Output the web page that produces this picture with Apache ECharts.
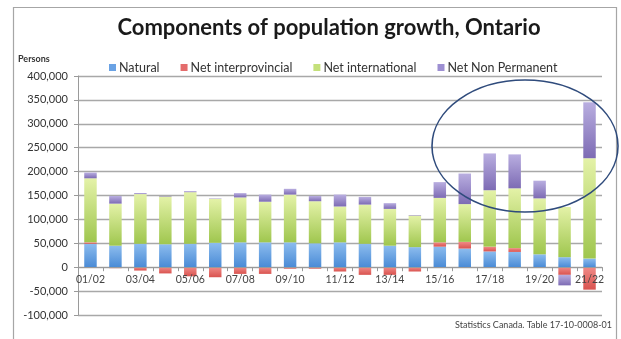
<!DOCTYPE html>
<html>
<head>
<meta charset="utf-8">
<script src="https://cdn.jsdelivr.net/npm/echarts@6/dist/echarts.min.js"></script>
<style>
html,body{margin:0;padding:0;background:#fff;}
#chart{width:621px;height:339px;}
</style>
</head>
<body>
<div id="chart"></div>
<script>
const categories = ['01/02','02/03','03/04','04/05','05/06','06/07','07/08','08/09','09/10','10/11','11/12','12/13','13/14','14/15','15/16','16/17','17/18','18/19','19/20','20/21','21/22'];
const natural =       [49000, 45000, 49000, 48000, 49000, 51000, 52000, 52000, 52000, 50000, 52000, 49000, 45000, 42000, 43000, 39000, 33000, 32000, 27000, 21000, 18000];
const interprovincial=[3000, -2000, -7000, -13000, -19000, -21000, -14000, -14000, -3000, -3000, -9000, -16000, -16000, -9000, 9000, 14000, 10000, 8000, -1000, -16000, -47000];
const international = [134000, 88000, 104000, 100000, 108000, 92000, 94000, 85000, 100000, 88000, 75000, 82000, 77000, 66000, 93000, 79000, 118000, 125000, 117000, 105000, 210000];
const nonPermanent =  [12000, 16000, 2000, 1000, 2000, 1000, 9000, 15000, 12000, 11000, 25000, 16000, 12000, 1000, 33000, 64000, 77000, 71000, 37000, -22000, 117000];
const seriesNames = ['Natural','Net interprovincial','Net international','Net Non Permanent'];
const yTicks = {min:-100000, max:400000, interval:50000};

const FONT = 'Lato, "Open Sans", sans-serif';
function grad(top, bottom){
  return new echarts.graphic.LinearGradient(0,0,0,1,[{offset:0,color:top},{offset:1,color:bottom}]);
}
const colors = [
  grad('#8cbcee','#4a8bd6'),
  grad('#f08a87','#d9534f'),
  grad('#e4f2a8','#9fc64e'),
  grad('#b9aee0','#7d6bb4')
];
const legendColors = ['#6aa2e4','#e46c6c','#c4e07a','#9d8fd2'];
const dataSets = [natural, interprovincial, international, nonPermanent];

const GRID = {left:78, right:19, top:76, bottom:24};
const plotH = 339 - GRID.top - GRID.bottom;
const zeroOffset = -plotH * (0 - yTicks.min) / (yTicks.max - yTicks.min);

const chart = echarts.init(document.getElementById('chart'), null, {renderer:'canvas'});
chart.setOption({
  animation:false,
  backgroundColor:'#fff',
  title:{
    text:'Components of population growth, Ontario',
    left:324, top:12, textAlign:'center',
    textStyle:{fontFamily:FONT, fontWeight:'bold', fontSize:22, color:'#1a1a1a'}
  },
  legend:{
    left:104, top:56,
    itemWidth:7, itemHeight:7, itemGap:21,
    icon:'rect',
    textStyle:{fontFamily:FONT, fontSize:12.5, color:'#333', padding:[0,0,0,-2]},
    data: seriesNames.map((n,i)=>({name:n, itemStyle:{color:legendColors[i]}}))
  },
  grid:GRID,
  xAxis:{
    type:'category', data:categories, position:'bottom', offset:zeroOffset,
    axisLine:{onZero:false, lineStyle:{color:'#9a9a9a', width:1}},
    axisTick:{show:true, interval:0, length:4, lineStyle:{color:'#9a9a9a'}},
    axisLabel:{interval:1, margin:7, fontFamily:FONT, fontSize:10.5, color:'#444'},
    z:5
  },
  yAxis:{
    type:'value', min:yTicks.min, max:yTicks.max, interval:yTicks.interval,
    axisLine:{show:true, lineStyle:{color:'#9a9a9a'}},
    axisTick:{show:true, length:4, lineStyle:{color:'#9a9a9a'}},
    splitLine:{lineStyle:{color:'#a8a8a8', width:1.3}},
    axisLabel:{margin:10, fontFamily:FONT, fontSize:11, color:'#333',
      formatter:v=>v.toLocaleString('en-US')}
  },
  series: seriesNames.map((n,i)=>({
    name:n, type:'bar', stack:'total', barWidth:'50%',
    itemStyle:{color:colors[i]},
    data:dataSets[i]
  })),
  graphic:[
    {type:'rect', shape:{x:13.5, y:7.5, width:603, height:340}, style:{fill:'none', stroke:'#a6a6a6', lineWidth:1.2}, silent:true, z:-1},
    {type:'text', left:18, top:55, style:{text:'Persons', font:'bold 9px '+FONT, fill:'#333'}},
    {type:'ellipse', shape:{cx:525, cy:146, rx:93, ry:66}, style:{fill:'none', stroke:'#2f4b7c', lineWidth:1.6}, z:100},
    {type:'text', right:9, top:321, style:{text:'Statistics Canada. Table 17-10-0008-01', font:'9px '+FONT, fill:'#444'}}
  ]
});
</script>
</body>
</html>
